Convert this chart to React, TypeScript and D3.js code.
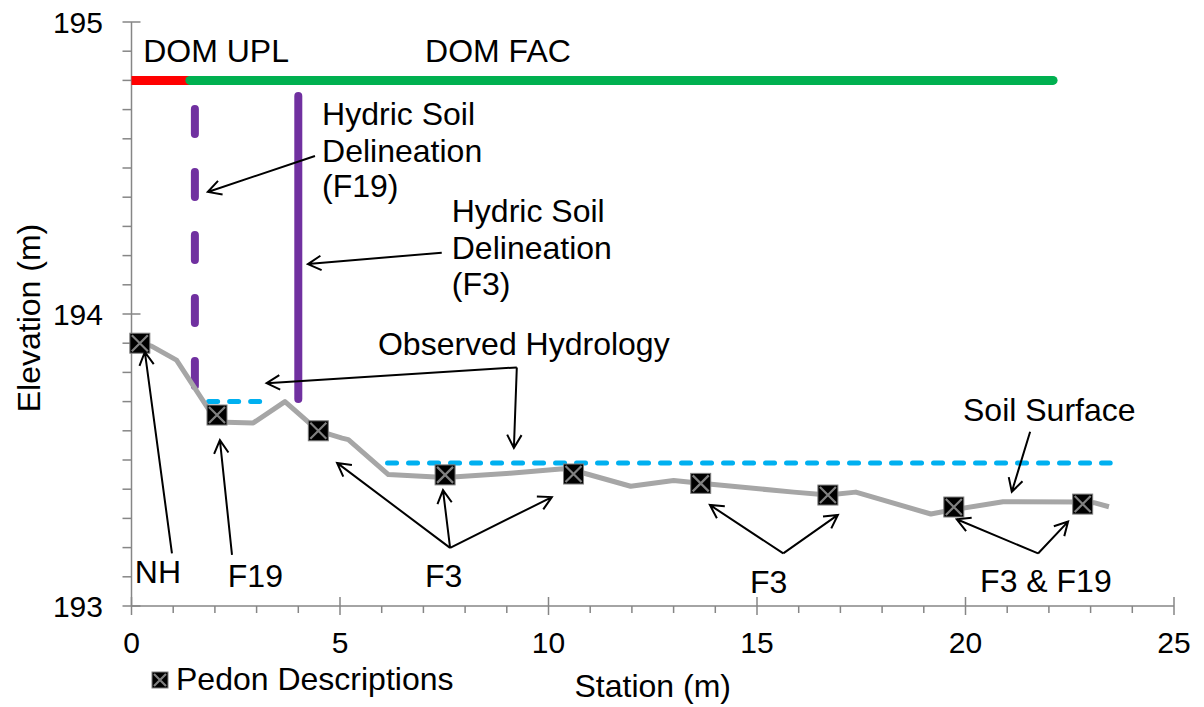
import React from 'react';
import * as d3 from 'd3';

// soil surface profile along the transect
const surfaceStation = [0.2, 0.48, 1.08, 2.05, 2.92, 3.68, 4.48, 5.05, 5.2, 6.16, 7.52, 9.08, 10.36, 10.6, 11.97, 13.0, 13.65, 15.88, 16.7, 17.37, 19.17, 19.72, 20.9, 22.81, 23.08, 23.44];
const surfaceElev = [193.9, 193.89, 193.842, 193.63, 193.627, 193.7, 193.6, 193.575, 193.57, 193.45, 193.44, 193.455, 193.47, 193.465, 193.41, 193.43, 193.42, 193.39, 193.38, 193.39, 193.315, 193.33, 193.357, 193.356, 193.354, 193.34];

// pedon description points
const pedonStation = [0.2, 2.05, 4.48, 7.52, 10.6, 13.65, 16.7, 19.72, 22.81];
const pedonElev = [193.9, 193.654, 193.6, 193.449, 193.452, 193.42, 193.38, 193.339, 193.349];

// observed hydrology (water table)
const hydroStart = [1.79, 6.08];
const hydroEnd = [3.34, 23.53];
const hydroElev = [193.7, 193.49];

// dominance bar
const domLabels = ['DOM UPL', 'DOM FAC'];
const domStart = [0, 1.4];
const domEnd = [1.4, 22.1];
const domElev = 194.8;
const domLabelX = [0.28, 7.04];

// hydric soil delineations
const delinStation = [1.52, 4.0];
const delinTop = [194.716, 194.76];
const delinBottom = [193.74, 193.695];

const xTickLabels = [0, 5, 10, 15, 20, 25];
const yTickLabels = [193, 194, 195];

// annotation texts: [x, baseline y] in data units
const notes = [
  {lines: ['Hydric Soil', 'Delineation', '(F19)'], x: 4.57, y: [194.647, 194.522, 194.401]},
  {lines: ['Hydric Soil', 'Delineation', '(F3)'], x: 7.68, y: [194.315, 194.188, 194.065]},
  {lines: ['Observed Hydrology'], x: 5.91, y: [193.86]},
  {lines: ['Soil Surface'], x: 19.94, y: [193.635]},
  {lines: ['NH'], x: 0.08, y: [193.079]},
  {lines: ['F19'], x: 2.31, y: [193.065]},
  {lines: ['F3'], x: 7.04, y: [193.065]},
  {lines: ['F3'], x: 14.83, y: [193.045]},
  {lines: ['F3 & F19'], x: 20.35, y: [193.048]},
];

// arrows: from -> to (data units)
const arrows = [
  [[4.4, 194.541], [1.83, 194.418]],
  [[7.44, 194.21], [4.23, 194.171]],
  [[9.24, 193.817], [3.24, 193.763]],
  [[9.24, 193.817], [9.17, 193.541]],
  [[0.97, 193.18], [0.32, 193.87]],
  [[2.41, 193.175], [2.12, 193.568]],
  [[7.64, 193.199], [4.93, 193.49]],
  [[7.64, 193.199], [7.47, 193.397]],
  [[7.64, 193.199], [10.08, 193.373]],
  [[15.63, 193.18], [13.87, 193.346]],
  [[15.63, 193.18], [16.94, 193.312]],
  [[21.74, 193.18], [19.79, 193.297]],
  [[21.74, 193.18], [22.46, 193.289]],
  [[21.55, 193.597], [21.11, 193.391]],
];

const width = 1204;
const height = 707;
const font = '"Liberation Sans", Arial, sans-serif';
const axisColor = '#868686';

function arrowPath(x1: number, y1: number, x2: number, y2: number) {
  const ang = Math.atan2(y2 - y1, x2 - x1);
  const len = 15;
  const spread = 0.5;
  const ax = x2 - len * Math.cos(ang - spread);
  const ay = y2 - len * Math.sin(ang - spread);
  const bx = x2 - len * Math.cos(ang + spread);
  const by = y2 - len * Math.sin(ang + spread);
  return `M${x1},${y1}L${x2},${y2}M${ax},${ay}L${x2},${y2}L${bx},${by}`;
}

function Pedon({cx, cy, size}: {cx: number; cy: number; size: number}) {
  const h = size / 2;
  const k = h - 2;
  return (
    <g>
      <rect x={cx - h} y={cy - h} width={size} height={size} fill="#000" stroke="#7f7f7f" strokeWidth={1}/>
      <path d={`M${cx - k},${cy - k}L${cx + k},${cy + k}M${cx - k},${cy + k}L${cx + k},${cy - k}`} stroke="#808080" strokeWidth={2.2}/>
    </g>
  );
}

export default function App() {
  const x = d3.scaleLinear().domain([0, 25]).range([131.5, 1174]);
  const y = d3.scaleLinear().domain([193, 195]).range([606, 22]);

  const line = d3.line<number>()
    .x((_, i) => x(surfaceStation[i]))
    .y((d) => y(d));

  const xMinor = d3.range(0, 26, 1);
  const yMinor = d3.range(193, 195.001, 0.1);

  return (
    <svg width={width} height={height} style={{position: 'absolute', left: 0, top: 0, background: '#fff'}} fontFamily={font}>
      {/* axes */}
      <g stroke={axisColor} strokeWidth={1.5}>
        <line x1={x(0)} x2={x(0)} y1={y(195)} y2={y(193)}/>
        <line x1={x(0)} x2={x(25)} y1={y(193)} y2={y(193)}/>
        {xMinor.map((t) => {
          const major = xTickLabels.includes(t);
          return <line key={'xt' + t} x1={x(t)} x2={x(t)} y1={major ? y(193) - 9 : y(193)} y2={y(193) + (major ? 9 : 7)}/>;
        })}
        {yMinor.map((t, i) => {
          const major = i % 10 === 0;
          return <line key={'yt' + i} x1={x(0) - 9} x2={major ? x(0) + 9 : x(0)} y1={y(t)} y2={y(t)}/>;
        })}
      </g>
      <g fontSize={30} fill="#000">
        {xTickLabels.map((t) => (
          <text key={'xl' + t} x={x(t)} y={653} textAnchor="middle">{t}</text>
        ))}
        {yTickLabels.map((t) => (
          <text key={'yl' + t} x={103} y={y(t) + 10.5} textAnchor="end">{t}</text>
        ))}
      </g>
      <g fontSize={32} fill="#000">
        <text x={(x(0) + x(25)) / 2} y={697} textAnchor="middle">Station (m)</text>
        <text transform={`translate(40,${(y(193) + y(195)) / 2 + 4}) rotate(-90)`} textAnchor="middle">Elevation (m)</text>
      </g>

      {/* dominance bar */}
      <line x1={x(domStart[0])} x2={x(domEnd[0])} y1={y(domElev)} y2={y(domElev)} stroke="#ff0000" strokeWidth={9}/>
      <line x1={x(domStart[1])} x2={x(domEnd[1])} y1={y(domElev)} y2={y(domElev)} stroke="#00b050" strokeWidth={9} strokeLinecap="round"/>

      {/* delineations */}
      <line x1={x(delinStation[0])} x2={x(delinStation[0])} y1={y(delinTop[0]) + 4} y2={y(delinBottom[0]) - 4}
            stroke="#7030a0" strokeWidth={8} strokeLinecap="round" strokeDasharray="25 38"/>
      <line x1={x(delinStation[1])} x2={x(delinStation[1])} y1={y(delinTop[1]) + 4} y2={y(delinBottom[1]) - 4}
            stroke="#7030a0" strokeWidth={8} strokeLinecap="round"/>

      {/* observed hydrology */}
      {hydroElev.map((e, i) => (
        <line key={'h' + i} x1={x(hydroStart[i]) + 2.5} x2={x(hydroEnd[i]) - 2.5} y1={y(e)} y2={y(e)}
              stroke="#00b0f0" strokeWidth={5} strokeLinecap="round" strokeDasharray="9 12"/>
      ))}

      {/* soil surface */}
      <path d={line(surfaceElev) || ''} fill="none" stroke="#a6a6a6" strokeWidth={5} strokeLinejoin="round"/>

      {pedonElev.map((e, i) => (
        <Pedon key={'p' + i} cx={x(pedonStation[i])} cy={y(e)} size={20}/>
      ))}

      {/* arrows */}
      <g stroke="#000" strokeWidth={2} fill="none">
        {arrows.map((a, i) => (
          <path key={'a' + i} d={arrowPath(x(a[0][0]), y(a[0][1]), x(a[1][0]), y(a[1][1]))}/>
        ))}
      </g>

      {/* labels */}
      <g fontSize={32} fill="#000">
        {domLabels.map((l, i) => (
          <text key={'d' + i} x={x(domLabelX[i])} y={y(194.863)}>{l}</text>
        ))}
        {notes.map((n, i) => n.lines.map((l, j) => (
          <text key={'n' + i + '-' + j} x={x(n.x)} y={y(n.y[j])}>{l}</text>
        )))}
      </g>

      {/* legend */}
      <Pedon cx={160} cy={680} size={16}/>
      <text x={176} y={690} fontSize={32}>Pedon Descriptions</text>
    </svg>
  );
}
